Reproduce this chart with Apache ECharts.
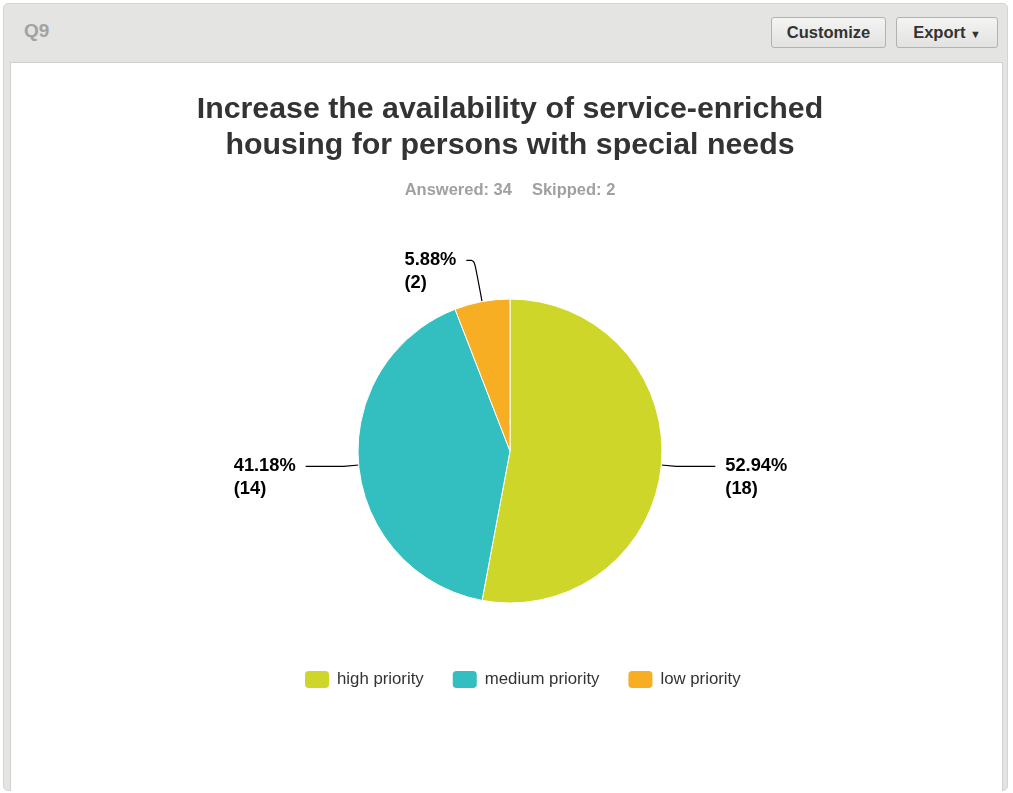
<!DOCTYPE html>
<html>
<head>
<meta charset="utf-8">
<script src="https://cdn.jsdelivr.net/npm/echarts@6/dist/echarts.min.js"></script>
<style>
  html, body { margin: 0; padding: 0; width: 1013px; height: 793px; background: #fff; overflow: hidden; font-family: "Liberation Sans", Arial, sans-serif; }
  #frame { position: absolute; left: 3px; top: 3px; width: 1003px; height: 786px; background: #e4e4e2; border: 1px solid #d4d4d2; border-radius: 5px; }
  #panel { position: absolute; left: 6px; top: 58px; right: 4px; bottom: -1px; background: #fff; border: 1px solid #d0d0ce; border-bottom: none; }
  #q { position: absolute; left: 20px; top: 16px; font-weight: bold; font-size: 19px; color: #a2a2a2; }
  .btn { position: absolute; top: 13px; height: 29px; border: 1px solid #b2b2b0; border-radius: 3px; background: linear-gradient(#f4f4f2, #e2e2e0); font-weight: bold; font-size: 16.5px; color: #333; line-height: 29px; text-align: center; box-sizing: content-box; }
  #chart { position: absolute; left: 0; top: 0; width: 1013px; height: 793px; }
</style>
</head>
<body>
<div id="frame">
  <div id="q">Q9</div>
  <div class="btn" style="left:767px;width:113px;">Customize</div>
  <div class="btn" style="left:892px;width:100px;">Export <span style="font-size:11px;">&#9660;</span></div>
  <div id="panel"></div>
</div>
<div id="chart"></div>
<script>
const titleText = "Increase the availability of service-enriched\nhousing for persons with special needs";
const answered = 34;
const skipped = 2;
const categories = ["high priority", "medium priority", "low priority"];
const counts = [18, 14, 2];
const colors = ["#cfd62a", "#33bec0", "#f7ae22"];

const chart = echarts.init(document.getElementById('chart'), null, { renderer: 'canvas' });

const lineCfg = [
  { length: 15, length2: 39, smooth: false },
  { length: 15, length2: 38, smooth: false },
  { length: 42, length2: 8, smooth: 0.3 }
];

const data = categories.map((name, i) => ({
  name: name,
  value: counts[i],
  itemStyle: { color: colors[i] },
  labelLine: lineCfg[i]
}));

chart.setOption({
  animation: false,
  graphic: [
    {
      type: 'text',
      x: 510,
      y: 92,
      style: {
        text: titleText,
        textAlign: 'center',
        textVerticalAlign: 'top',
        fontFamily: 'Liberation Sans',
        fontWeight: 'bold',
        fontSize: 30.3,
        lineHeight: 36,
        fill: '#333333'
      }
    },
    {
      type: 'text',
      x: 510,
      y: 190,
      style: {
        text: '{a|Answered: ' + answered + '}{g|}{a|Skipped: ' + skipped + '}',
        textAlign: 'center',
        textVerticalAlign: 'middle',
        rich: {
          a: { fontFamily: 'Liberation Sans', fontWeight: 'bold', fontSize: 16.5, fill: '#a0a0a0' },
          g: { width: 20 }
        }
      }
    }
  ],
  legend: {
    data: categories,
    left: 298,
    top: 664,
    itemWidth: 26,
    itemHeight: 19,
    itemGap: 27,
    icon: 'roundRect',
    textStyle: { fontFamily: 'Liberation Sans', fontSize: 16.8, color: '#333333', padding: [0, 0, 0, 2] }
  },
  series: [{
    type: 'pie',
    center: [510, 451],
    radius: [0, 152],
    startAngle: 90,
    clockwise: true,
    avoidLabelOverlap: false,
    itemStyle: { borderColor: '#ffffff', borderWidth: 1 },
    label: {
      show: true,
      formatter: function (p) {
        return '{e|}\n{a|' + p.percent.toFixed(2) + '%}\n{a|(' + p.value + ')}';
      },
      distanceToLabelLine: 10,
      rich: {
        e: { fontSize: 18.3, lineHeight: 23 },
        a: { fontFamily: 'Liberation Sans', fontWeight: 'bold', fontSize: 18.3, lineHeight: 23, color: '#000000', align: 'left' }
      }
    },
    labelLine: { show: true, lineStyle: { color: '#000000', width: 1.2 } },
    emphasis: { disabled: true },
    data: data
  }]
});
</script>
</body>
</html>
